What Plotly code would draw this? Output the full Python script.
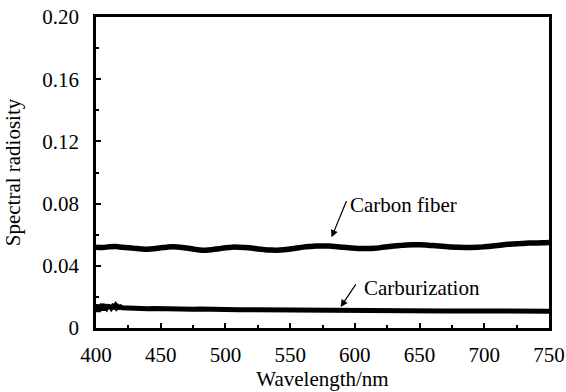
import plotly.graph_objects as go

wavelength_cf = list(range(400, 755, 5))
carbon_fiber = [0.0520, 0.0518, 0.0522, 0.0524, 0.0520, 0.0516, 0.0512, 0.0508, 0.0506, 0.0510,
                0.0516, 0.0520, 0.0522, 0.0520, 0.0514, 0.0508, 0.0502, 0.0500, 0.0504, 0.0510,
                0.0516, 0.0520, 0.0520, 0.0518, 0.0514, 0.0508, 0.0504, 0.0501, 0.0500, 0.0503,
                0.0508, 0.0514, 0.0520, 0.0524, 0.0527, 0.0528, 0.0527, 0.0524, 0.0520, 0.0516,
                0.0513, 0.0511, 0.0511, 0.0513, 0.0517, 0.0522, 0.0527, 0.0531, 0.0534, 0.0535,
                0.0535, 0.0533, 0.0530, 0.0527, 0.0524, 0.0521, 0.0519, 0.0518, 0.0518, 0.0519,
                0.0522, 0.0526, 0.0531, 0.0536, 0.0539, 0.0542, 0.0544, 0.0546, 0.0547, 0.0548,
                0.0550]

wavelength_cz = [400, 401, 402, 403, 404, 405, 406, 407, 408, 409, 410, 411, 412, 413, 414,
                 415, 416, 417, 418, 419, 420, 425, 430, 435, 440, 445, 450, 455, 460, 465,
                 470, 475, 480, 485, 490, 495, 500, 510, 520, 530, 540, 550, 560, 570, 580,
                 590, 600, 610, 620, 630, 640, 650, 660, 670, 680, 690, 700, 710, 720, 730,
                 740, 750]
carburization = [0.0120, 0.0150, 0.0105, 0.0145, 0.0125, 0.0155, 0.0115, 0.0140, 0.0130, 0.0150,
                 0.0125, 0.0145, 0.0130, 0.0140, 0.0135, 0.0145, 0.0130, 0.0138, 0.0132, 0.0136,
                 0.0130, 0.0127, 0.0126, 0.0129, 0.0124, 0.0125, 0.0123, 0.0124, 0.0122, 0.0123,
                 0.0122, 0.0121, 0.0122, 0.0120, 0.0121, 0.0119, 0.0120, 0.0118, 0.0118, 0.0117,
                 0.0116, 0.0116, 0.0115, 0.0115, 0.0114, 0.0114, 0.0113, 0.0112, 0.0112, 0.0111,
                 0.0111, 0.0111, 0.0110, 0.0110, 0.0110, 0.0109, 0.0109, 0.0109, 0.0108, 0.0108,
                 0.0108, 0.0108]

x_ticks = [400, 450, 500, 550, 600, 650, 700, 750]
y_ticks = [0, 0.04, 0.08, 0.12, 0.16, 0.20]
y_tick_labels = ["0", "0.04", "0.08", "0.12", "0.16", "0.20"]

FONT = "Liberation Serif"

fig = go.Figure()
fig.add_trace(go.Scatter(x=wavelength_cf, y=carbon_fiber, mode="lines",
                         line=dict(color="black", width=5.5, shape="spline"), showlegend=False))
fig.add_trace(go.Scatter(x=wavelength_cz, y=carburization, mode="lines",
                         line=dict(color="black", width=5), showlegend=False))

# arrows (tail at data coordinates)
arrow_style = dict(showarrow=True, arrowhead=2, arrowsize=1.2, arrowwidth=1.2,
                   arrowcolor="black", standoff=0, text="", axref="x", ayref="y")
fig.add_annotation(x=582, y=0.0583, ax=594, ay=0.0827, **arrow_style)
fig.add_annotation(x=589, y=0.0135, ax=601.5, ay=0.0290, **arrow_style)

# labels
fig.add_annotation(x=594.5, y=0.0790, text="Carbon fiber", showarrow=False,
                   xanchor="left", yanchor="middle",
                   font=dict(family=FONT, size=21, color="black"))
fig.add_annotation(x=605.5, y=0.0258, text="Carburization", showarrow=False,
                   xanchor="left", yanchor="middle",
                   font=dict(family=FONT, size=21, color="black"))

axis_common = dict(showline=True, linecolor="black", linewidth=2.5, mirror=True,
                   showgrid=False, zeroline=False, ticks="inside", tickcolor="black",
                   tickwidth=2, ticklen=5, automargin=False,
                   tickfont=dict(family=FONT, size=21, color="black"))

fig.update_xaxes(range=[400, 750], tickvals=x_ticks, ticklabelstandoff=6,
                 minor=dict(ticks="inside", dtick=25, ticklen=3, tickwidth=2, tickcolor="black"),
                 title=dict(text="Wavelength/nm", font=dict(family=FONT, size=21, color="black"), standoff=4),
                 **axis_common)
fig.update_yaxes(range=[0, 0.20], tickvals=y_ticks, ticktext=y_tick_labels, ticklabelstandoff=10,
                 minor=dict(ticks="inside", dtick=0.02, ticklen=3, tickwidth=2, tickcolor="black"),
                 title=dict(text="Spectral radiosity", font=dict(family=FONT, size=21, color="black"), standoff=16),
                 **axis_common)

fig.update_layout(width=566, height=392, margin=dict(l=96, r=17, t=17, b=64),
                  plot_bgcolor="white", paper_bgcolor="white")

fig.write_html("out.html")
